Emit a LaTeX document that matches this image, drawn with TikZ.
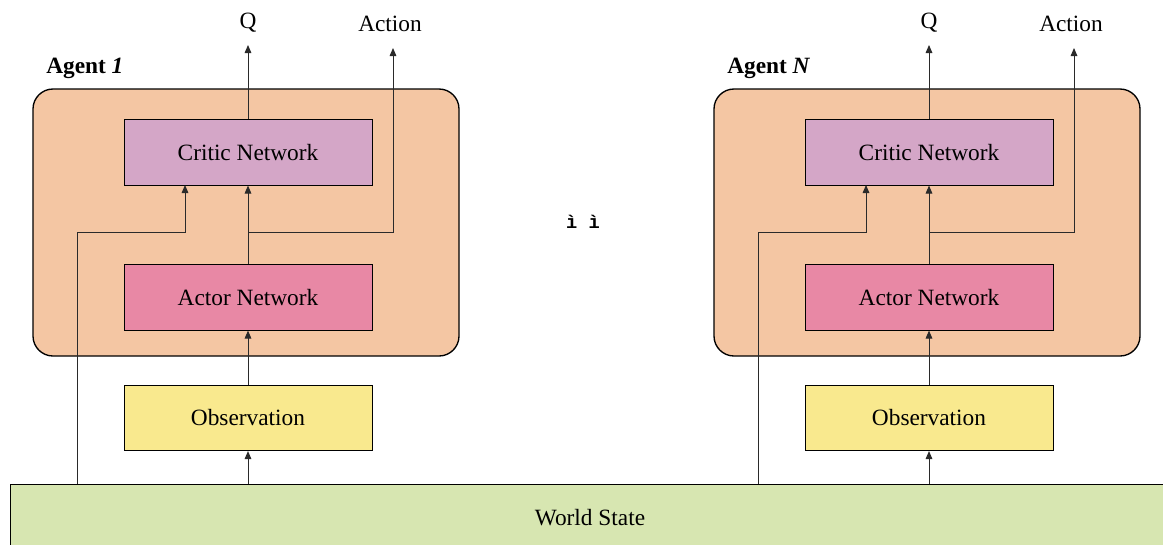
\documentclass[tikz,border=0pt]{standalone}
\usepackage{fontspec}
\setmainfont{Liberation Serif}
\newfontfamily\monofnt{Liberation Mono}
\usetikzlibrary{arrows.meta}
\definecolor{agentc}{HTML}{F4C6A3}
\definecolor{criticc}{HTML}{D4A6C7}
\definecolor{actorc}{HTML}{E888A5}
\definecolor{obsc}{HTML}{F9E98E}
\definecolor{worldc}{HTML}{D7E6B1}
\definecolor{linec}{HTML}{2A2A2A}
\begin{document}
\begin{tikzpicture}[x=0.75pt,y=-0.75pt,
  netbox/.style={draw=black,line width=0.6pt,minimum width=186pt,minimum height=49pt,inner sep=0pt,font=\fontsize{17.5}{20}\selectfont},
  agentbox/.style={draw=black,line width=1pt,fill=agentc,rounded corners=15pt},
  arr/.style={draw=linec,line width=0.7pt,-{Triangle[length=6pt,width=5pt]}},
  lbl/.style={font=\fontsize{17.5}{20}\selectfont,inner sep=0pt}]
\useasboundingbox (0,0) rectangle (1163,544);
% world state
\fill[worldc] (10,484) rectangle (1175,560);
\draw[black,line width=0.6pt] (1175,484) -- (10,484) -- (10,560);
\node[lbl] (world) at (590,518) {World State};
\foreach \dx/\nm/\lab in {0/a/{\textbf{Agent }\textbf{\textit{1}}},681/b/{\textbf{Agent }\textbf{\textit{N}}}}{
  \begin{scope}[xshift=\dx*0.75pt]
  \draw[agentbox] (33,89) rectangle (459,356);
  \node[lbl,anchor=west] (agent\nm) at (46,68) {\lab};
  \node[netbox,fill=criticc] (critic\nm) at (248,152.5) {Critic Network};
  \node[netbox,fill=actorc] (actor\nm) at (248,297.5) {Actor Network};
  \node[netbox,fill=obsc] (obs\nm) at (248,418) {Observation};
  \node[lbl] (q\nm) at (248,23) {Q};
  \node[lbl] (act\nm) at (390,24) {Action};
  \coordinate (ws1\nm) at (248,484);
  \coordinate (ws2\nm) at (77,484);
  \coordinate (qend\nm) at (248,45);
  \coordinate (aend\nm) at (393,48);
  \coordinate (split\nm) at (248,232);
  \draw[arr] (ws1\nm) -- (obs\nm.south);
  \draw[arr] (obs\nm.north) -- (actor\nm.south);
  \draw[arr] (actor\nm.north) -- (critic\nm.south);
  \draw[arr] (critic\nm.north) -- (qend\nm);
  \draw[arr] (split\nm) -| (aend\nm);
  \draw[arr] (ws2\nm) |- (185,232) -- (185,185);
  \end{scope}
}
\node[font=\monofnt\bfseries\fontsize{14}{16}\selectfont,inner sep=0pt] (dots) at (583,222) {ì ì};
\end{tikzpicture}
\end{document}
